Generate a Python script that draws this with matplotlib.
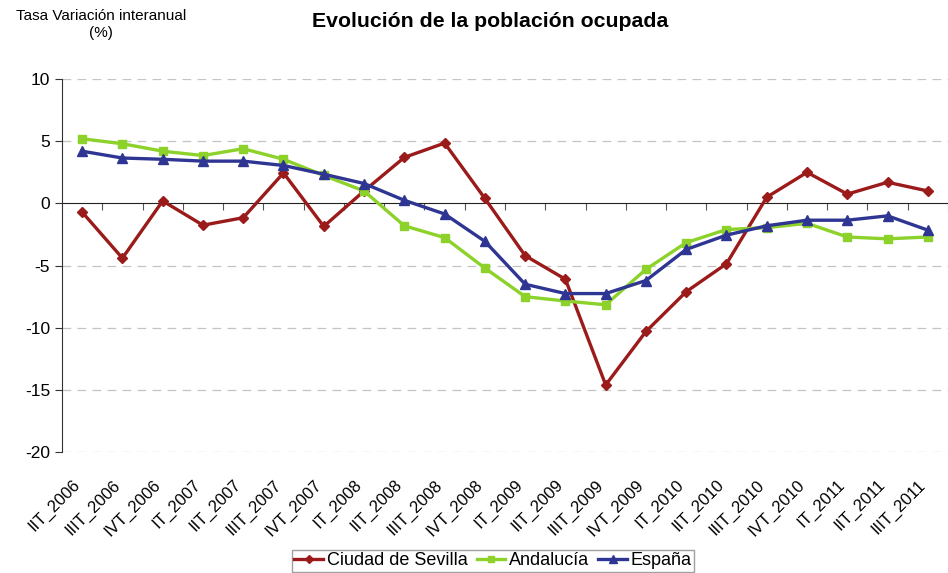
import matplotlib
matplotlib.use('Agg')
import matplotlib.pyplot as plt
import matplotlib.transforms as mtrans
import numpy as np

plt.rcParams['font.family'] = ['Liberation Sans', 'DejaVu Sans']
plt.rcParams['axes.unicode_minus'] = False

# Trimestres
quarters = ['IIT_2006', 'IIIT_2006', 'IVT_2006', 'IT_2007', 'IIT_2007', 'IIIT_2007',
            'IVT_2007', 'IT_2008', 'IIT_2008', 'IIIT_2008', 'IVT_2008', 'IT_2009',
            'IIT_2009', 'IIIT_2009', 'IVT_2009', 'IT_2010', 'IIT_2010', 'IIIT_2010',
            'IVT_2010', 'IT_2011', 'IIT_2011', 'IIIT_2011']

sevilla = [-0.7, -4.4, 0.2, -1.75, -1.15, 2.45, -1.85, 1.0, 3.7, 4.85, 0.4,
           -4.2, -6.1, -14.6, -10.3, -7.1, -4.85, 0.5, 2.5, 0.75, 1.7, 1.0]
andalucia = [5.2, 4.8, 4.2, 3.85, 4.4, 3.55, 2.25, 1.0, -1.8, -2.75, -5.2,
             -7.5, -7.85, -8.15, -5.3, -3.15, -2.1, -1.95, -1.6, -2.7, -2.85, -2.7]
espana = [4.2, 3.65, 3.55, 3.4, 3.4, 3.05, 2.35, 1.6, 0.25, -0.85, -3.05,
          -6.5, -7.25, -7.25, -6.2, -3.7, -2.55, -1.8, -1.35, -1.35, -1.0, -2.15]

series = [('Ciudad de Sevilla', sevilla, '#9B1B1B', 'D', 5.5),
          ('Andalucía', andalucia, '#8CD22A', 's', 6),
          ('España', espana, '#2E3592', '^', 7)]

x = np.arange(len(quarters))

fig = plt.figure(figsize=(9.48, 5.73), dpi=100)
ax = fig.add_axes([0.0654, 0.211, 0.9346, 0.651])

for name, vals, col, mk, ms in series:
    ax.plot(x, vals, color=col, lw=2.4, marker=mk, markersize=ms,
            markeredgecolor=col, label=name, zorder=3)

ax.set_ylim(-20, 10)
ax.set_xlim(-0.5, 21.18)
ax.set_yticks(np.arange(-20, 11, 5))
ax.tick_params(axis='y', labelsize=12.5, direction='out', length=5, color='#333333')
for yv in np.arange(-20, 11, 5):
    if yv != 0:
        ax.axhline(yv, color='#C4C4C4', lw=0.9, ls=(0, (7, 5)), zorder=1)

for s in ['top', 'right']:
    ax.spines[s].set_visible(False)
ax.spines['left'].set_color('#333333')
ax.spines['bottom'].set_position(('data', 0))
ax.spines['bottom'].set_color('#222222')
ax.set_xticks(x + 0.5)
ax.set_xticklabels([])
ax.tick_params(axis='x', direction='out', length=5, color='#555555')

sec = ax.secondary_xaxis('bottom')
sec.set_xticks(x)
sec.set_xticklabels(quarters, rotation=45, ha='right', rotation_mode='anchor', fontsize=12)
sec.tick_params(length=0, pad=18)
sec.spines['bottom'].set_visible(False)
shift = mtrans.ScaledTranslation(-0.1, 0, fig.dpi_scale_trans)
for lab in sec.get_xticklabels():
    lab.set_transform(lab.get_transform() + shift)

fig.text(0.517, 0.962, 'Evolución de la población ocupada', ha='center', va='center',
         fontsize=15.3, fontweight='bold')
fig.text(0.107, 0.985, 'Tasa Variación interanual\n(%)', ha='center', va='top',
         fontsize=11, linespacing=1.35)

fig.legend(loc='lower center', bbox_to_anchor=(0.52, 0.0), ncol=3, fontsize=13,
           frameon=True, fancybox=False, edgecolor='#888888', handlelength=1.6,
           handletextpad=0.2, columnspacing=0.5, borderpad=0.15, borderaxespad=0.05,
           markerscale=0.8)

fig.savefig('out.png', dpi=100)
